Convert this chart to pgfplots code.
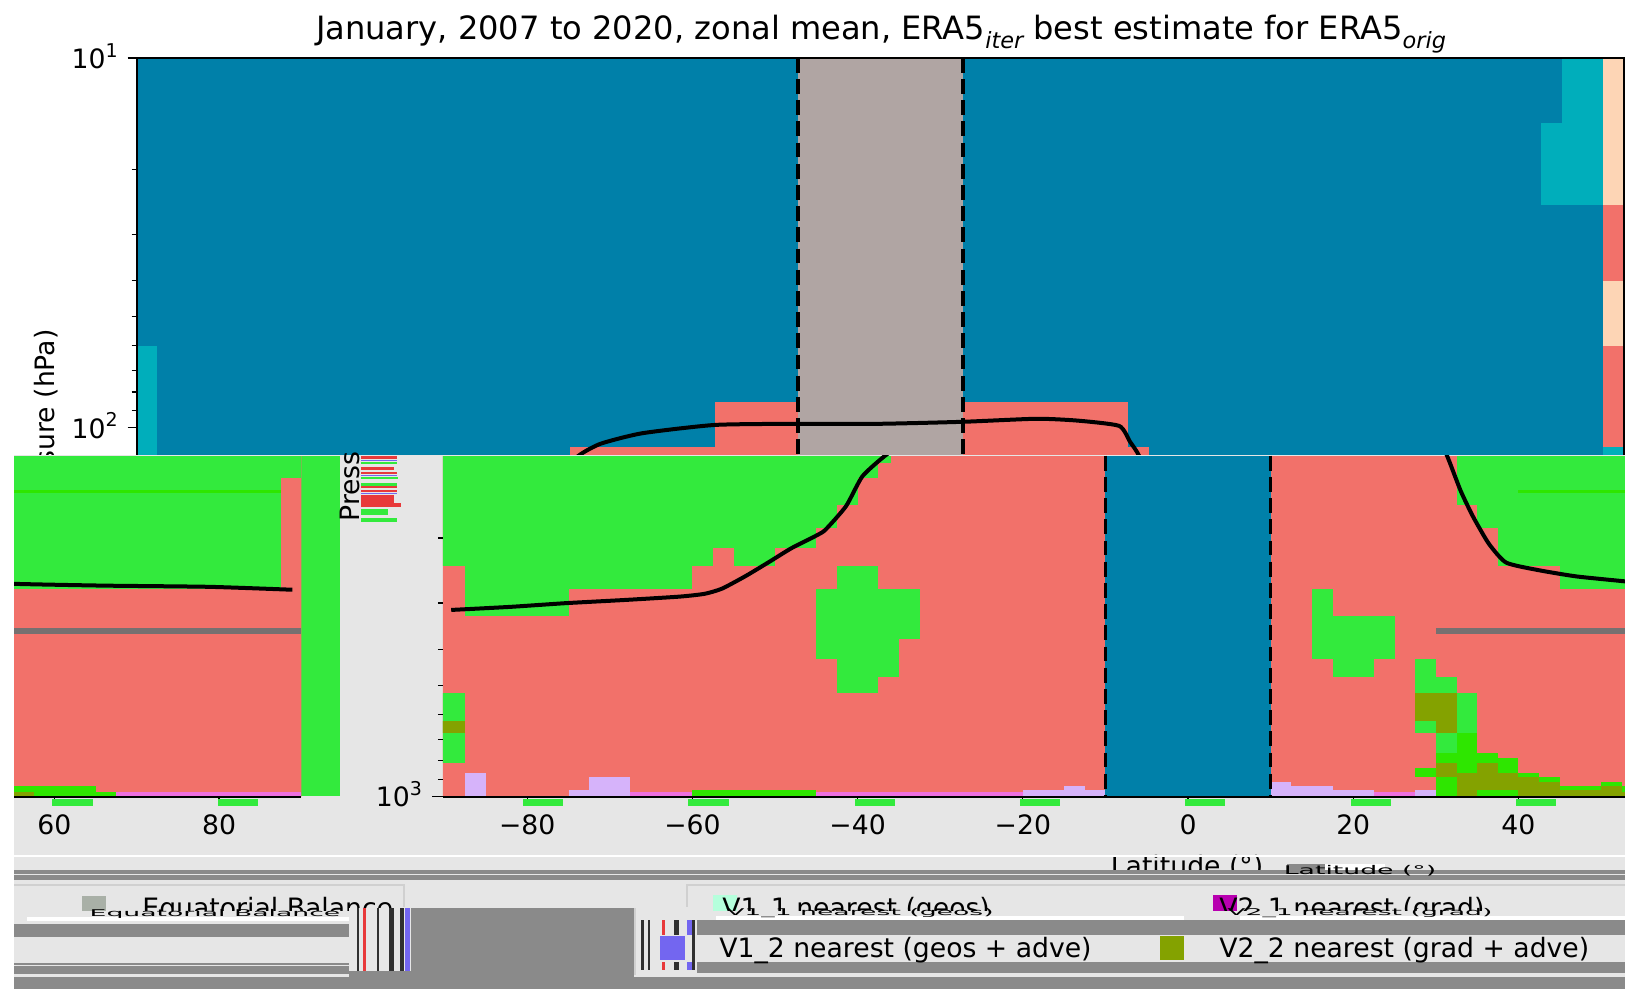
\documentclass[border=0pt]{standalone}
\usepackage{fontspec}
\setmainfont{DejaVu Sans}
\usepackage{graphicx}
\usepackage{pgfplots}
\pgfplotsset{compat=1.18}
\definecolor{cBlue}{HTML}{0080A9}
\definecolor{cCyan}{HTML}{00AEBB}
\definecolor{cSalmon}{HTML}{F2716A}
\definecolor{cPeach}{HTML}{FDD5B5}
\definecolor{cTaupe}{HTML}{B0A5A3}
\definecolor{cGreen}{HTML}{33EA3D}
\definecolor{cBright}{HTML}{2EE600}
\definecolor{cOlive}{HTML}{84A200}
\definecolor{cLilac}{HTML}{D6B3FA}
\definecolor{cPink}{HTML}{EE70E0}
\definecolor{cBar}{HTML}{767070}
\definecolor{cBg}{HTML}{E6E6E6}
\definecolor{cDark}{HTML}{8A8A8A}
\definecolor{cSage}{HTML}{A9B0A7}
\definecolor{cMint}{HTML}{B5FFDC}
\definecolor{cMag}{HTML}{B800B0}
\definecolor{cViolet}{HTML}{7366F0}
\definecolor{cRed}{HTML}{E8393A}
\definecolor{cFrame}{HTML}{D0D0D0}
\definecolor{cInk}{HTML}{303030}
% a filled cell: colour, lat1, lat2, p1, p2
\newcommand{\mycell}[5]{\addplot[fill=#1,draw=none] coordinates {(#2,#4)(#3,#4)(#3,#5)(#2,#5)};}
% a filled patch in the pixel-grid axes: colour, x1, y1, x2, y2
\newcommand{\mypatch}[5]{\addplot[fill=#1,draw=none] coordinates {(#2,#3)(#4,#3)(#4,#5)(#2,#5)};}
\newcommand{\tenp}[1]{10\raisebox{0.42em}{\fontsize{9.5}{9.5}\selectfont #1}}
\newcommand{\mysub}[1]{\raisebox{-0.28em}{\fontsize{11.2}{11.2}\selectfont\itshape #1}}
\newcommand{\lab}{\fontsize{13.33}{16}\selectfont}
\tikzset{tx/.style={inner sep=0pt,font=\lab}}
\newcommand{\tropo}{\addplot[black,line width=2pt,smooth,tension=0.35] coordinates {
(-89.2,313)(-82,307)(-75.3,300)(-68,294)(-61.5,288)(-58.5,283)(-56.4,274)(-53.5,253)(-50.7,232)(-48,213)(-45,197)(-43.9,190)(-41.4,164)(-39.4,136)(-36.4,118.5)
(-33.8,110.4)(-28.8,103.5)(-20,98.3)(-10,97.6)(0,97.6)(10,96.4)(18.9,94.6)(23.9,95.7)(28.9,98.9)(30.2,109)(31.3,119)
(33,149)(34.5,175)(36.4,207)(38.5,233)(42.3,244)(47,254)(52.9,262)(55.1,266)(66,269)(78.7,271)(88.9,276)};}
\newcommand{\lowerfield}{%
\mycell{cSalmon}{-91}{96}{119.8}{1000}
\mycell{cGreen}{-91}{-87.5}{119.8}{237.5}
\mycell{cGreen}{-87.5}{-75}{119.8}{325}
\mycell{cGreen}{-75}{-60}{119.8}{275}
\mycell{cGreen}{-60}{-57.5}{119.8}{237.5}
\mycell{cGreen}{-57.5}{-55}{119.8}{212.5}
\mycell{cGreen}{-55}{-50}{119.8}{237.5}
\mycell{cGreen}{-50}{-45}{119.8}{212.5}
\mycell{cGreen}{-45}{-42.5}{119.8}{187.5}
\mycell{cGreen}{-42.5}{-40}{119.8}{162.5}
\mycell{cGreen}{-40}{-37.5}{119.8}{137.5}
\mycell{cGreen}{-37.5}{-36}{119.8}{125}
\mycell{cGreen}{-91}{-87.5}{525}{812.5}
\mycell{cOlive}{-91}{-87.5}{625}{675}
\mycell{cLilac}{-87.5}{-85}{862.5}{1000}
\mycell{cLilac}{-75}{-72.5}{962.5}{1000}
\mycell{cLilac}{-72.5}{-67.5}{887.5}{1000}
\mycell{cPink}{-67.5}{-60}{975}{1000}
\mycell{cBright}{-60}{-45}{962.5}{1000}
\mycell{cPink}{-45}{-20}{975}{1000}
\mycell{cLilac}{-20}{-15}{962.5}{1000}
\mycell{cLilac}{-15}{-12.5}{937.5}{1000}
\mycell{cLilac}{-12.5}{-10}{962.5}{1000}
% mid-latitude blob, south
\mycell{cGreen}{-42.5}{-37.5}{237.5}{275}
\mycell{cGreen}{-45}{-32.5}{275}{375}
\mycell{cGreen}{-45}{-35}{375}{425}
\mycell{cGreen}{-42.5}{-35}{425}{475}
\mycell{cGreen}{-42.5}{-37.5}{475}{525}
% equatorial column
\mycell{cBlue}{-10}{10}{119.8}{1000}
% north
\mycell{cLilac}{10}{12.5}{912.5}{1000}
\mycell{cLilac}{12.5}{17.5}{937.5}{1000}
\mycell{cLilac}{17.5}{22.5}{962.5}{1000}
\mycell{cPink}{22.5}{27.5}{975}{1000}
\mycell{cLilac}{27.5}{30}{962.5}{1000}
\mycell{cGreen}{15}{17.5}{275}{425}
\mycell{cGreen}{17.5}{25}{325}{425}
\mycell{cGreen}{17.5}{22.5}{425}{475}
\mycell{cGreen}{27.5}{30}{425}{675}
\mycell{cGreen}{30}{32.5}{475}{762.5}
\mycell{cGreen}{32.5}{35}{525}{675}
\mycell{cOlive}{27.5}{32.5}{525}{625}
\mycell{cOlive}{30}{32.5}{625}{675}
\mycell{cBright}{30}{32.5}{762.5}{812.5}
\mycell{cBright}{32.5}{35}{675}{862.5}
\mycell{cBright}{35}{37.5}{762.5}{812.5}
\mycell{cBright}{37.5}{40}{787.5}{862.5}
\mycell{cBright}{27.5}{30}{837.5}{887.5}
\mycell{cOlive}{30}{32.5}{812.5}{887.5}
\mycell{cBright}{30}{32.5}{887.5}{1000}
\mycell{cOlive}{32.5}{35}{862.5}{1000}
\mycell{cOlive}{35}{37.5}{812.5}{962.5}
\mycell{cBright}{35}{37.5}{962.5}{1000}
\mycell{cOlive}{37.5}{40}{862.5}{962.5}
\mycell{cBright}{37.5}{40}{962.5}{1000}
\mycell{cBright}{40}{42.5}{862.5}{887.5}
\mycell{cOlive}{40}{42.5}{887.5}{1000}
\mycell{cBright}{42.5}{45}{887.5}{912.5}
\mycell{cOlive}{42.5}{45}{912.5}{1000}
\mycell{cBright}{45}{50}{937.5}{962.5}
\mycell{cOlive}{45}{50}{962.5}{1000}
\mycell{cBright}{50}{52.5}{912.5}{937.5}
\mycell{cOlive}{50}{52.5}{937.5}{1000}
\mycell{cBright}{52.5}{65}{937.5}{1000}
\mycell{cOlive}{52.5}{57.5}{975}{1000}
\mycell{cBright}{65}{67.5}{975}{1000}
\mycell{cPink}{67.5}{90}{975}{1000}
% upper north
\mycell{cGreen}{32.5}{35}{119.8}{162.5}
\mycell{cGreen}{35}{37.5}{119.8}{187.5}
\mycell{cGreen}{37.5}{45}{119.8}{237.5}
\mycell{cGreen}{45}{87.5}{119.8}{275}
\mycell{cGreen}{87.5}{90}{119.8}{137.5}
\mycell{cBright}{40}{87.5}{148}{151}
\mycell{cBar}{30}{90}{351}{364}
\tropo
\addplot[black,line width=1.8pt,dash pattern=on 7.4pt off 3.2pt] coordinates {(-10,119.8)(-10,1000)};
\addplot[black,line width=1.8pt,dash pattern=on 7.4pt off 3.2pt] coordinates {(10,119.8)(10,1000)};
}
\pgfplotsset{
  pixelaxis/.style={scale only axis,width=812.5pt,height=494.5pt,at={(0pt,0pt)},anchor=south west,
    xmin=0,xmax=1625,ymin=0,ymax=989,y dir=reverse,hide axis,clip=true},
  lataxis/.style={scale only axis,y dir=reverse,
    tick label style={font=\lab},
    tick style={black,line width=0.65pt},minor tick length=2.5pt,
    tick align=outside}
}
\begin{document}
\begin{tikzpicture}
\useasboundingbox (0pt,0pt) rectangle (812.5pt,494.5pt);
% title and y label
\begin{axis}[pixelaxis]
\mypatch{white}{0}{0}{1625}{989}
\node[font=\fontsize{16.05}{19}\selectfont,anchor=base] at (axis cs:881,40) {January, 2007 to 2020, zonal mean, ERA5\mysub{iter} best estimate for ERA5\mysub{orig}};
\node[tx,rotate=90,anchor=center] at (axis cs:46,425) {Pressure (hPa)};
\end{axis}
% upper panel
\begin{semilogyaxis}[lataxis,width=743.65pt,height=199.4pt,at={(68.35pt,266.15pt)},anchor=south west,
  xmin=-90,xmax=90,ymin=10,ymax=119.8,xtick=\empty,
  ytick={10,100},yticklabels={\tenp{1},\tenp{2}},yticklabel style={xshift=-1.5pt,yshift=1pt},
  minor ytick={20,30,40,50,60,70,80,90},major tick length=4.5pt,
  axis line style={black,line width=0.8pt},axis on top,ytick pos=left]
\mycell{cBlue}{-90}{90}{10}{119.8}
\mycell{cCyan}{-90}{-87.5}{60}{119.8}
\mycell{cSalmon}{-37.5}{32.5}{112.5}{119.8}
\mycell{cSalmon}{-20}{30}{85}{112.5}
\mycell{cTaupe}{-10}{10}{10}{119.8}
\mycell{cCyan}{82.5}{87.5}{10}{25}
\mycell{cCyan}{80}{87.5}{15}{25}
\mycell{cPeach}{87.5}{90}{10}{25}
\mycell{cSalmon}{87.5}{90}{25}{40}
\mycell{cPeach}{87.5}{90}{40}{60}
\mycell{cSalmon}{87.5}{90}{60}{112.5}
\mycell{cCyan}{87.5}{90}{112.5}{119.8}
\tropo
\addplot[black,line width=1.8pt,dash pattern=on 7.4pt off 3.2pt] coordinates {(-10,10)(-10,119.8)};
\addplot[black,line width=1.8pt,dash pattern=on 7.4pt off 3.2pt] coordinates {(10,10)(10,119.8)};
\end{semilogyaxis}
% light ground of the displaced lower part
\begin{axis}[pixelaxis]
\mypatch{cBg}{14}{455}{1625}{989}
\mypatch{cGreen}{301}{455.5}{340}{796}
\end{axis}
% lower part, centre
\begin{semilogyaxis}[lataxis,width=591.025pt,height=170.4pt,at={(221.475pt,96.25pt)},anchor=south west,
  xmin=-90.2,xmax=52.9,ymin=119.8,ymax=1000,
  xtick={-80,-60,-40,-20,0,20,40},xticklabels={−80,−60,−40,−20,0,20,40},
  xticklabel style={yshift=-3.9pt},
  ytick={1000},yticklabels={\tenp{3}},yticklabel style={xshift=-5.5pt,yshift=1pt},
  minor ytick={200,300,400,500,600,700,800,900},major tick length=1.5pt,
  axis x line*=bottom,axis y line*=left,
  x axis line style={black,line width=1pt,-},y axis line style={draw=none,-},axis on top]
\lowerfield
\end{semilogyaxis}
% lower part, left
\begin{semilogyaxis}[lataxis,width=143.7pt,height=170.4pt,at={(7pt,96.25pt)},anchor=south west,
  xmin=55.1,xmax=90,ymin=119.8,ymax=1000,
  xtick={60,80},xticklabel style={yshift=-3.9pt},
  xticklabels={60,80},ytick=\empty,major tick length=1.5pt,
  axis x line*=bottom,axis y line*=left,
  x axis line style={black,line width=1pt,-},y axis line style={draw=none,-},axis on top]
\lowerfield
\end{semilogyaxis}
% displaced strips, legend
\begin{axis}[pixelaxis]
\addplot[black,line width=0.65pt] coordinates {(432,796.5)(443,796.5)};
% bars below the axis
\mypatch{cGreen}{52}{799}{93}{806}
\mypatch{cGreen}{218}{799}{258}{806}
\mypatch{cGreen}{523}{799}{563}{806}
\mypatch{cGreen}{688}{799}{729}{806}
\mypatch{cGreen}{855}{799}{895}{806}
\mypatch{cGreen}{1020}{799}{1060}{806}
\mypatch{cGreen}{1185}{799}{1225}{806}
\mypatch{cGreen}{1351}{799}{1391}{806}
\mypatch{cGreen}{1516}{799}{1556}{806}
% broken y label strip
\mypatch{cRed}{361}{456}{397}{459}
\mypatch{cViolet}{361}{460}{397}{461}
\mypatch{cGreen}{361}{462}{397}{464}
\mypatch{cRed}{361}{467}{394}{470}
\mypatch{cRed}{361}{472}{397}{474}
\mypatch{cViolet}{361}{475}{397}{476}
\mypatch{cGreen}{361}{477}{398}{479}
\mypatch{cGreen}{361}{483}{397}{486}
\mypatch{cRed}{361}{486}{397}{488}
\mypatch{cRed}{361}{490}{397}{492}
\mypatch{cViolet}{361}{493}{397}{494}
\mypatch{cRed}{361}{495}{394}{506}
\mypatch{cRed}{361}{503}{401}{507}
\mypatch{cGreen}{361}{509}{388}{515}
\mypatch{cGreen}{361}{518}{397}{522}
\node[tx,rotate=90,anchor=base west] at (axis cs:359,522) {Press};
% text under the axis and bands
\node[tx,anchor=base] at (axis cs:1187,875) {Latitude (°)};
\mypatch{white}{14}{855}{1625}{857}
\mypatch{cDark}{1287}{864}{1325}{870}
\mypatch{white}{1325}{864}{1385}{870}
\mypatch{cDark}{14}{870}{1625}{880}
\mypatch{cBg}{14}{874}{1625}{875}
\mypatch{cBg}{14}{880}{1625}{907}
\mypatch{cFrame}{14}{884}{404}{885.5}
\mypatch{cFrame}{403}{884}{404.5}{907}
\mypatch{cFrame}{686}{884}{1625}{885.5}
\mypatch{cFrame}{686}{884}{687.5}{907}
\node at (axis cs:1360,871) {\scalebox{1}[0.45]{\lab Latitude (°)}};
% first legend row, cut off
\mypatch{cSage}{82}{896}{106}{918}
\mypatch{cMint}{713}{895}{737}{918}
\mypatch{cMag}{1213}{895}{1237}{918}
\node[tx,anchor=base west] at (axis cs:142,917) {Equatorial Balance};
\node[tx,anchor=base west] at (axis cs:722,917) {V1\_1 nearest (geos)};
\node[tx,anchor=base west] at (axis cs:1219,917) {V2\_1 nearest (grad)};
\mypatch{cBg}{14}{911}{1625}{924}
\mypatch{white}{27}{917}{349}{920.5}
\mypatch{white}{716}{916}{1184}{920}
\mypatch{white}{1240}{916}{1625}{920}
\node at (axis cs:215,914) {\scalebox{1}[0.35]{\lab Equatorial Balance}};
\node at (axis cs:860,913) {\scalebox{1}[0.35]{\lab V1\_1 nearest (geos)}};
\node at (axis cs:1360,913) {\scalebox{1}[0.35]{\lab V2\_1 nearest (grad)}};
% dark bands of the lower rows
\mypatch{cDark}{14}{924}{349}{937}
\mypatch{cBg}{14}{937}{349}{962}
\mypatch{cDark}{14}{962.5}{349}{965}
\mypatch{cDark}{14}{966}{349}{974}
\mypatch{cBg}{14}{974}{349}{977}
\mypatch{cDark}{14}{977}{1625}{989}
\mypatch{cDark}{411}{908}{634}{977}
\mypatch{cBg}{349}{908}{411}{971}
\mypatch{cInk}{357}{908}{359}{971}
\mypatch{cRed}{363}{908}{365.5}{971}
\mypatch{cInk}{376.5}{908}{379}{971}
\mypatch{cInk}{389}{908}{394}{971}
\mypatch{cInk}{399.5}{908}{404}{971}
\mypatch{cViolet}{405}{908}{410}{971}
\mypatch{cDark}{349}{971}{411}{989}
\mypatch{cBg}{634}{920}{702}{975}
\mypatch{cFrame}{634}{908}{636}{975}
\mypatch{cInk}{641}{920}{644}{970}
\mypatch{cInk}{648}{920}{650}{970}
\mypatch{cRed}{662}{920}{665}{935}
\mypatch{cRed}{662}{962}{665}{970}
\mypatch{cInk}{674}{920}{679}{935}
\mypatch{cInk}{674}{962}{679}{970}
\mypatch{cViolet}{687}{920}{692}{935}
\mypatch{cViolet}{687}{962}{692}{970}
\mypatch{cInk}{692}{920}{695}{970}
\mypatch{cDark}{697}{920}{1625}{935}
\mypatch{cBg}{697}{935}{1625}{962}
\mypatch{cDark}{697}{962}{1625}{973}
\mypatch{cBg}{636}{973}{1625}{977}
\mypatch{cViolet}{660}{936}{685}{960}
\mypatch{cOlive}{1160}{936}{1184}{960}
\node[tx,anchor=base west] at (axis cs:719,957) {V1\_2 nearest (geos + adve)};
\node[tx,anchor=base west] at (axis cs:1219,957) {V2\_2 nearest (grad + adve)};
\end{axis}
\end{tikzpicture}
\end{document}
